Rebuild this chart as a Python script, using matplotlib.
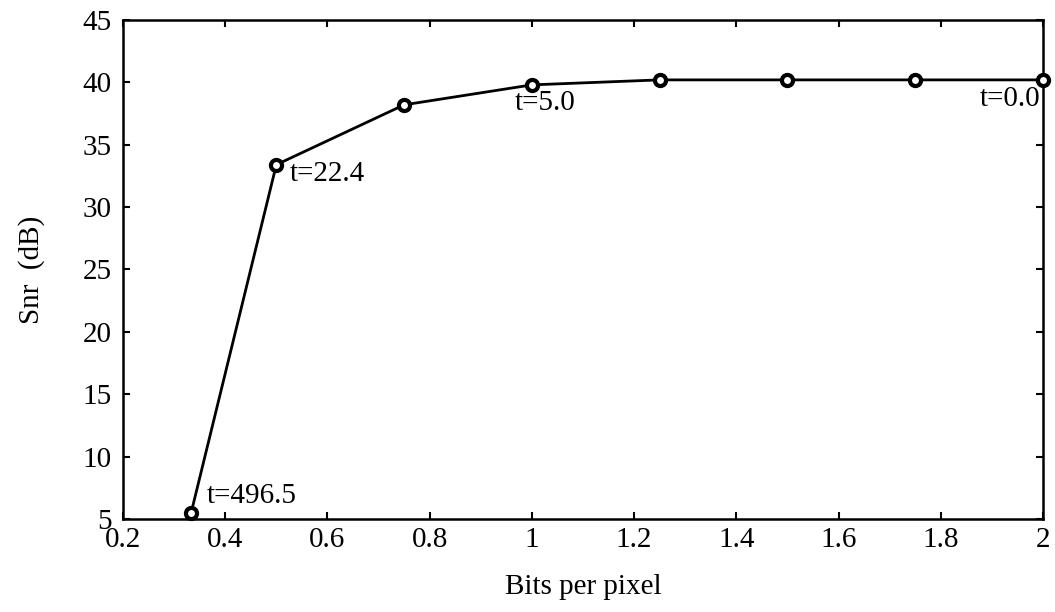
import matplotlib.pyplot as plt

### DATA
bpp = [1/3, 0.5, 0.75, 1.0, 1.25, 1.5, 1.75, 2.0]
snr = [5.5, 33.4, 38.2, 39.8, 40.2, 40.2, 40.2, 40.2]
labels = ['t=496.5', 't=22.4', 't=5.0', 't=0.0']
label_idx = [0, 1, 3, 7]

plt.rcParams['font.family'] = ['Liberation Serif', 'DejaVu Serif']

fig = plt.figure(figsize=(10.55, 6.12), dpi=100)
ax = fig.add_axes([123/1055, 1 - 519/612, 920/1055, 499/612])

ax.plot(bpp, snr, color='black', linewidth=2, marker='o', markersize=8,
        markerfacecolor='white', markeredgewidth=3, clip_on=False, zorder=3)

### ANNOTATIONS (offsets in points)
offsets = [(11, 12, 'left'), (10, -7, 'left'), (-12, -13, 'left'), (-2, -14, 'right')]
for lab, i, (dx, dy, ha) in zip(labels, label_idx, offsets):
  ax.annotate(lab, (bpp[i], snr[i]), xytext=(dx, dy), textcoords='offset points',
              ha=ha, va='center', fontsize=21)

ax.set_xlim(0.2, 2)
ax.set_ylim(5, 45)
ax.set_xticks([0.2, 0.4, 0.6, 0.8, 1, 1.2, 1.4, 1.6, 1.8, 2])
ax.set_xticklabels(['0.2', '0.4', '0.6', '0.8', '1', '1.2', '1.4', '1.6', '1.8', '2'])
ax.set_yticks(range(5, 50, 5))
ax.tick_params(direction='in', top=True, right=True, length=5, width=1.5,
               labelsize=21)
ax.tick_params(axis='x', pad=6)
ax.tick_params(axis='y', pad=8)
for s in ax.spines.values():
  s.set_linewidth(1.8)

ax.set_xlabel('Bits per pixel', fontsize=21, labelpad=15)
ax.set_ylabel('Snr  (dB)', fontsize=21, labelpad=27)

fig.savefig('out.png', dpi=100)
